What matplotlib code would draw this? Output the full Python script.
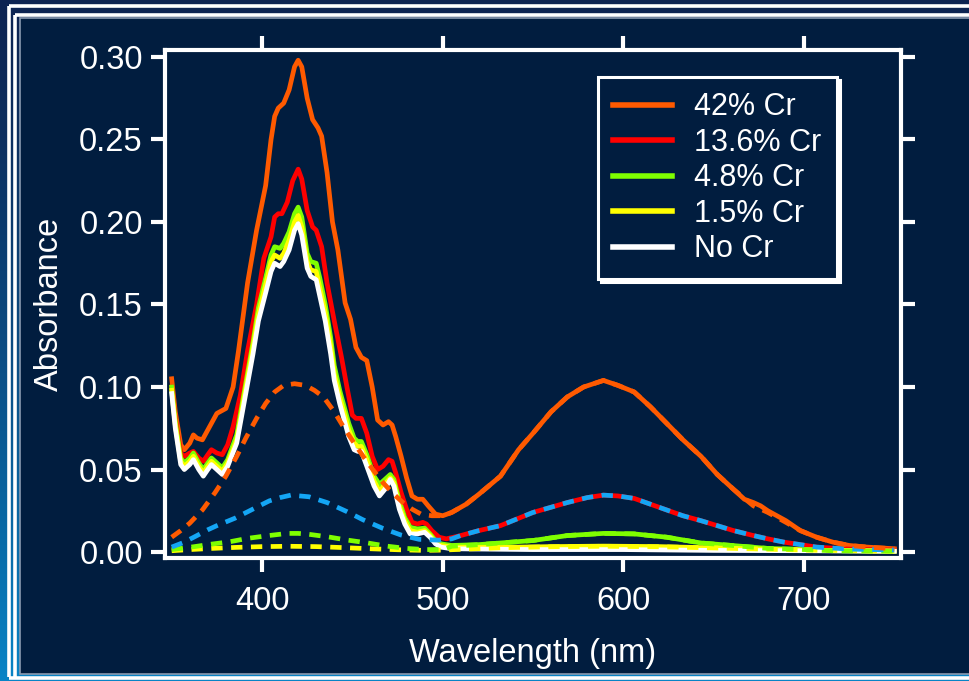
import matplotlib
matplotlib.use("Agg")
import matplotlib.pyplot as plt
import numpy as np
from matplotlib.patches import Rectangle
from matplotlib.lines import Line2D

# measured spectra (wavelength in nm, absorbance)
wl_42 = [350, 352, 355, 357, 360, 362, 364, 367, 370, 375, 380, 384, 387, 392, 397,
         402, 405, 407, 409, 412, 415, 418, 420, 422, 425, 428, 431, 433, 436, 439,
         442, 446, 449, 452, 455, 458, 461, 464, 467, 470, 472, 474, 477, 480, 483,
         486, 489, 492, 496, 500, 505, 513, 520, 532, 542, 550, 560, 569, 578, 589,
         597, 606, 615, 624, 633, 643, 652, 661, 667, 672, 676, 680, 690, 698, 707,
         716, 725, 735, 750]
abs_42 = [0.105, 0.085, 0.065, 0.062, 0.066, 0.071, 0.069, 0.068, 0.074, 0.084, 0.087,
          0.100, 0.122, 0.163, 0.195, 0.222, 0.250, 0.264, 0.269, 0.272, 0.280, 0.294,
          0.298, 0.294, 0.275, 0.262, 0.257, 0.252, 0.230, 0.200, 0.183, 0.151, 0.141,
          0.124, 0.118, 0.116, 0.100, 0.080, 0.077, 0.079, 0.077, 0.070, 0.058, 0.045,
          0.034, 0.032, 0.032, 0.028, 0.023, 0.022, 0.024, 0.029, 0.035, 0.046, 0.062,
          0.072, 0.085, 0.094, 0.100, 0.104, 0.101, 0.097, 0.088, 0.078, 0.068, 0.058,
          0.047, 0.038, 0.032, 0.030, 0.028, 0.025, 0.019, 0.013, 0.009, 0.006, 0.004,
          0.003, 0.002]

wl_136 = [350, 352, 355, 357, 360, 362, 365, 367.5, 370, 372, 375, 378, 381, 384, 388,
          392, 397, 401, 405, 407, 409, 411, 414, 417, 420, 422, 425, 428, 430, 433,
          436, 440, 444, 447, 450, 452, 455, 458, 461, 464, 467, 470, 472, 474, 477,
          480, 483, 486, 489, 491, 494, 498, 502, 510, 520, 532, 550, 569, 580, 589,
          597, 606, 615, 624, 633, 643, 652, 661, 672, 680, 689, 698, 707, 725, 750]
abs_136 = [0.100, 0.080, 0.060, 0.058, 0.060, 0.061, 0.057, 0.055, 0.059, 0.062, 0.060,
           0.059, 0.065, 0.076, 0.095, 0.122, 0.150, 0.178, 0.191, 0.203, 0.205, 0.205,
           0.212, 0.225, 0.232, 0.226, 0.207, 0.197, 0.195, 0.185, 0.163, 0.140, 0.118,
           0.100, 0.083, 0.081, 0.081, 0.072, 0.058, 0.050, 0.052, 0.056, 0.055, 0.048,
           0.036, 0.026, 0.018, 0.017, 0.018, 0.017, 0.013, 0.009, 0.008, 0.010, 0.013,
           0.016, 0.024, 0.030, 0.033, 0.0345, 0.034, 0.0325, 0.029, 0.0255, 0.022,
           0.019, 0.016, 0.013, 0.010, 0.008, 0.006, 0.0045, 0.003, 0.0018, 0.0012]

wl_48 = [350, 352, 355, 357, 360, 362, 365, 367.5, 370, 372, 375, 378, 381, 386, 390,
         395, 398, 402, 405, 407, 410, 412, 415, 418, 420, 422, 425, 427, 430, 432,
         435, 438, 440, 443, 445, 448, 451, 453, 455, 458, 462, 465, 468, 471, 473,
         476, 479, 482, 486, 490, 493, 496, 499, 505, 520, 532, 550, 569, 589, 606,
         624, 643, 660, 680, 700, 716, 750]
abs_48 = [0.100, 0.079, 0.057, 0.054, 0.057, 0.060, 0.054, 0.050, 0.054, 0.057, 0.054,
          0.051, 0.056, 0.071, 0.096, 0.127, 0.148, 0.166, 0.180, 0.185, 0.184, 0.187,
          0.194, 0.205, 0.209, 0.203, 0.181, 0.176, 0.175, 0.166, 0.150, 0.130, 0.113,
          0.098, 0.090, 0.078, 0.069, 0.067, 0.067, 0.059, 0.046, 0.041, 0.044, 0.047,
          0.044, 0.031, 0.021, 0.015, 0.014, 0.0145, 0.011, 0.007, 0.005, 0.004, 0.0045,
          0.0055, 0.007, 0.010, 0.0113, 0.011, 0.009, 0.0055, 0.004, 0.0022, 0.0015,
          0.0008, 0.0005]

wl_15 = [350, 352, 355, 357, 360, 362, 365, 367.5, 370, 372, 375, 378, 381, 386, 390,
         395, 398, 402, 405, 407, 410, 412, 415, 418, 420, 422, 425, 427, 430, 432,
         435, 438, 440, 443, 445, 448, 451, 453, 455, 458, 462, 465, 468, 471, 473,
         476, 479, 482, 486, 490, 493, 496, 499, 505, 532, 560, 589, 620, 650, 700, 750]
abs_15 = [0.098, 0.077, 0.055, 0.052, 0.055, 0.058, 0.052, 0.048, 0.052, 0.055, 0.052,
          0.049, 0.054, 0.068, 0.093, 0.124, 0.144, 0.162, 0.176, 0.180, 0.178, 0.181,
          0.189, 0.200, 0.204, 0.197, 0.176, 0.171, 0.170, 0.160, 0.145, 0.125, 0.108,
          0.094, 0.086, 0.074, 0.066, 0.064, 0.064, 0.056, 0.043, 0.037, 0.041, 0.045,
          0.042, 0.028, 0.019, 0.013, 0.012, 0.013, 0.010, 0.006, 0.004, 0.003, 0.0028,
          0.0033, 0.0036, 0.0033, 0.0025, 0.0012, 0.0005]

wl_0 = [350, 352, 355, 357, 360, 362, 365, 367.5, 370, 372, 375, 378, 381, 386, 390,
        395, 398, 402, 405, 407, 410, 412, 415, 418, 420, 422, 425, 427, 430, 432,
        435, 438, 440, 443, 445, 448, 451, 453, 455, 458, 462, 465, 468, 471, 473,
        476, 479, 482, 486, 490, 493, 496, 499, 505, 550, 600, 650, 700, 750]
abs_0 = [0.096, 0.075, 0.053, 0.050, 0.053, 0.056, 0.050, 0.046, 0.050, 0.053, 0.050,
         0.047, 0.052, 0.066, 0.090, 0.120, 0.140, 0.157, 0.170, 0.175, 0.173, 0.176,
         0.183, 0.195, 0.199, 0.192, 0.172, 0.167, 0.165, 0.155, 0.140, 0.120, 0.104,
         0.090, 0.082, 0.070, 0.062, 0.061, 0.061, 0.052, 0.040, 0.034, 0.038, 0.044,
         0.040, 0.026, 0.017, 0.011, 0.011, 0.012, 0.009, 0.005, 0.003, 0.002, 0.0015,
         0.0015, 0.001, 0.0008, 0.0005]

# band fits (dashed)
fit_wl_42 = [350, 355, 360, 367, 374, 380, 386, 391, 397, 402, 407, 412, 418, 424, 429,
             434, 440, 445, 451, 456, 462, 467, 473, 478, 483, 488, 494, 500, 505, 513,
             520, 532, 542, 550, 560, 569, 578, 589, 597, 606, 615, 624, 633, 643, 652,
             661, 672, 680, 690, 698, 707, 716, 725, 735, 750]
fit_abs_42 = [0.009, 0.013, 0.0175, 0.0255, 0.036, 0.046, 0.058, 0.069, 0.081, 0.090,
              0.097, 0.101, 0.102, 0.101, 0.098, 0.094, 0.085, 0.076, 0.066, 0.058,
              0.049, 0.042, 0.035, 0.030, 0.026, 0.023, 0.022, 0.022, 0.024, 0.029,
              0.035, 0.046, 0.062, 0.072, 0.085, 0.094, 0.100, 0.104, 0.101, 0.097,
              0.088, 0.078, 0.068, 0.058, 0.047, 0.038, 0.028, 0.024, 0.018, 0.013,
              0.009, 0.006, 0.004, 0.003, 0.002]

fit_wl_136 = [350, 357, 364, 370, 375, 385, 394, 404, 410, 416, 421, 426, 436, 447, 456,
              467, 477, 487, 498, 505, 510, 520, 532, 550, 569, 580, 589, 597, 606, 615,
              624, 633, 643, 652, 661, 672, 680, 689, 698, 707, 725, 750]
fit_abs_136 = [0.003, 0.006, 0.010, 0.0135, 0.016, 0.0205, 0.0255, 0.031, 0.033, 0.0345,
               0.034, 0.0335, 0.030, 0.0245, 0.0195, 0.0143, 0.0103, 0.0077, 0.0072,
               0.008, 0.010, 0.013, 0.016, 0.024, 0.030, 0.033, 0.0345, 0.034, 0.0325,
               0.029, 0.0255, 0.022, 0.019, 0.016, 0.013, 0.010, 0.008, 0.006, 0.0045,
               0.003, 0.0018, 0.0012]

fit_wl_48 = [350, 362, 372, 382, 392, 403, 414, 420, 425, 436, 447, 458, 469, 480, 491,
             500, 505, 520, 532, 550, 569, 589, 606, 624, 643, 660, 680, 700, 716, 750]
fit_abs_48 = [0.0015, 0.0032, 0.0048, 0.0062, 0.0083, 0.0099, 0.0113, 0.0113, 0.0109,
              0.0093, 0.0073, 0.0056, 0.0036, 0.0022, 0.0015, 0.0015, 0.0035, 0.0045,
              0.0055, 0.007, 0.010, 0.0113, 0.011, 0.009, 0.0055, 0.004, 0.0022, 0.0015,
              0.0008, 0.0005]

fit_wl_15 = [350, 360, 372, 385, 400, 415, 430, 445, 460, 475, 490, 500, 532, 560, 589,
             620, 650, 700, 750]
fit_abs_15 = [0.0008, 0.0015, 0.0022, 0.0028, 0.0033, 0.0035, 0.0033, 0.0027, 0.0020,
              0.0014, 0.0010, 0.0012, 0.0026, 0.0032, 0.0035, 0.0032, 0.0025, 0.0012,
              0.0005]

labels = ["42% Cr", "13.6% Cr", "4.8% Cr", "1.5% Cr", "No Cr"]
y_ticks = [0.00, 0.05, 0.10, 0.15, 0.20, 0.25, 0.30]
x_ticks = [400, 500, 600, 700]

c_orange = "#ff5a00"
c_red = "#ff0000"
c_green = "#7fff00"
c_yellow = "#ffff00"
c_white = "#ffffff"
c_blue = "#14a6f5"
panel = "#011d3f"

plt.rcParams["font.family"] = ["Liberation Sans", "DejaVu Sans"]

W, H = 970, 681
fig = plt.figure(figsize=(W / 100, H / 100), dpi=100)


def fx(px):
    return px / W


def fy(py):
    return 1 - py / H


# background gradient behind the frame
bg = fig.add_axes([0, 0, 1, 1], zorder=-5)
grad = np.linspace(0, 1, 256).reshape(-1, 1)
top = np.array([0x0e, 0x24, 0x52]) / 255
bot = np.array([0x08, 0x84, 0xc6]) / 255
img = top + (bot - top) * grad[:, :, None] ** 1.3
bg.imshow(img, aspect="auto", extent=[0, 1, 0, 1])
bg.axis("off")

# inner panel and white frame lines
fig.add_artist(Rectangle((fx(20), fy(674)), fx(W) - fx(20), fy(18) - fy(674),
                         transform=fig.transFigure, facecolor=panel,
                         edgecolor="#8a9ab0", lw=1.2, zorder=-2))
for xs, ys in [([9, 9], [6, 677]), ([9, W], [6, 6]), ([15, 15], [15, 677]),
               ([15, W], [15, 15]), ([9, W], [677.5, 677.5])]:
    fig.add_artist(Line2D([fx(v) for v in xs], [fy(v) for v in ys],
                          transform=fig.transFigure, color="white", lw=2.6,
                          zorder=-1, solid_capstyle="butt"))

ax = fig.add_axes([fx(165), fy(558), fx(901) - fx(165), fy(50) - fy(558)])
ax.set_facecolor(panel)

solid = [(wl_42, abs_42, c_orange), (wl_136, abs_136, c_red), (wl_48, abs_48, c_green),
         (wl_15, abs_15, c_yellow), (wl_0, abs_0, c_white)]
for (x, y, c), lab in zip(solid, labels):
    ax.plot(x, y, color=c, lw=3.4, label=lab, solid_joinstyle="round")

dash = (0, (2.4, 1.8))
ax.plot(fit_wl_15, fit_abs_15, color=c_yellow, lw=3.4, ls=dash)
ax.plot(fit_wl_48, fit_abs_48, color=c_green, lw=3.4, ls=dash)
ax.plot(fit_wl_136, fit_abs_136, color=c_blue, lw=3.4, ls=dash)
ax.plot(fit_wl_42, fit_abs_42, color=c_orange, lw=3.4, ls=dash)

ax.set_xlim(346.3, 753.7)
ax.set_ylim(-0.0036, 0.3042)
ax.set_xticks(x_ticks)
ax.set_yticks(y_ticks)
ax.set_yticklabels([f"{v:.2f}" for v in y_ticks])

for s in ax.spines.values():
    s.set_color("white")
    s.set_linewidth(3)
ax.tick_params(axis="both", which="both", direction="out", length=10, width=3,
               color="white", labelcolor="white", labelsize=23.5,
               top=True, right=True, labeltop=False, labelright=False)
ax.tick_params(axis="x", pad=10)
ax.tick_params(axis="y", pad=6)

ax.set_xlabel("Wavelength (nm)", color="white", fontsize=23.5, labelpad=15)
ax.set_ylabel("Absorbance", color="white", fontsize=23.5, labelpad=10)

leg = ax.legend(loc="upper right", bbox_to_anchor=(0.913, 0.947), borderaxespad=0,
                fontsize=22, frameon=True, fancybox=False, handlelength=1.9,
                handletextpad=0.75, labelspacing=0.18, borderpad=0.5,
                shadow={"color": "white", "alpha": 1.0})
frame = leg.get_frame()
frame.set_facecolor(panel)
frame.set_edgecolor("white")
frame.set_linewidth(2.2)
frame.set_alpha(1)
for t in leg.get_texts():
    t.set_color("white")
for h in leg.get_lines():
    h.set_linewidth(4)

fig.savefig("out.png", dpi=100, facecolor=fig.get_facecolor())
